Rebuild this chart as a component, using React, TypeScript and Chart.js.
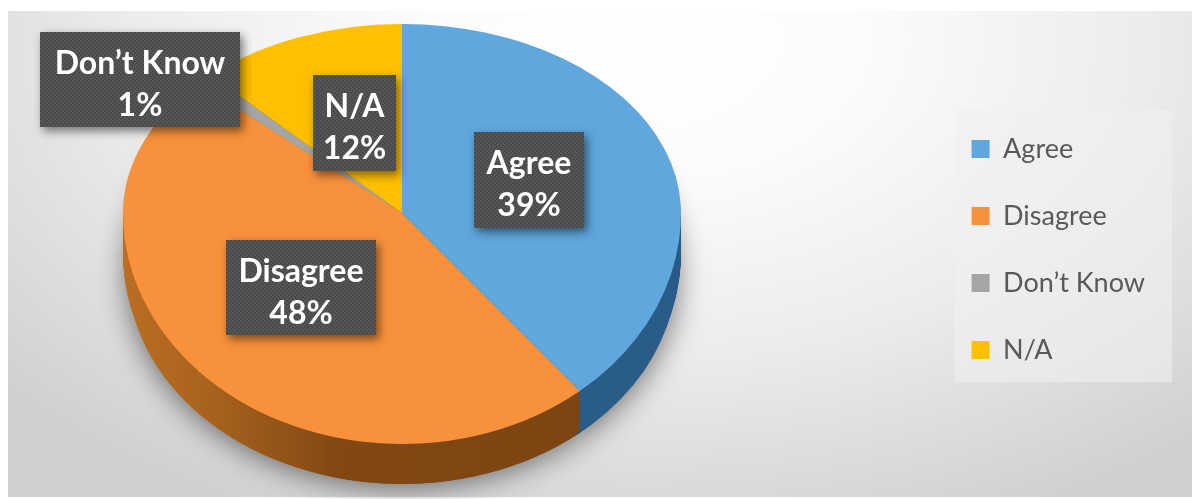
import React, { useEffect, useRef } from "react";
import { Chart, registerables } from "chart.js";

Chart.register(...registerables);

const categories = ["Agree", "Disagree", "Don’t Know", "N/A"];
const shares = [39, 48, 1, 12];
const topColors = ["#5fa7dd", "#f7913c", "#a5a5a5", "#ffc000"];

// Where each data-label box sits on the page: [left, top, right, bottom]
const labelBoxes = [
  [474, 132, 584, 228],
  [226, 240, 376, 335],
  [40, 32, 240, 127],
  [313, 75, 396, 171],
];

const PIE = { cx: 402, cy: 213, rx: 279, ryTop: 189, ryBottom: 231, depth: 40 };

function place(ctx: CanvasRenderingContext2D, el: any, rx: number, ry: number, d: number) {
  const R = el.outerRadius;
  ctx.translate(PIE.cx, PIE.cy + d);
  ctx.scale(rx / R, ry / R);
  ctx.translate(-el.x, -el.y);
}

function clipBand(ctx: CanvasRenderingContext2D, top: number, bottom: number) {
  ctx.beginPath();
  ctx.rect(0, top, 1192, bottom - top);
  ctx.clip();
}

function drawAs(ctx: CanvasRenderingContext2D, el: any, fill: any) {
  const o = el.options;
  el.options = { ...o, backgroundColor: fill };
  el.draw(ctx);
  el.options = o;
}

const pie3d = {
  id: "pie3d",
  beforeDraw(chart: any) {
    const ctx: CanvasRenderingContext2D = chart.ctx;
    ctx.save();
    ctx.fillStyle = "#ffffff";
    ctx.fillRect(0, 0, 1192, 499);
    ctx.beginPath();
    ctx.rect(8, 11, 1184, 486);
    ctx.clip();
    ctx.translate(640, 40);
    ctx.scale(1, 0.62);
    const g = ctx.createRadialGradient(0, 0, 0, 0, 0, 850);
    g.addColorStop(0, "#ffffff");
    g.addColorStop(0.25, "#fcfcfc");
    g.addColorStop(0.6, "#ececec");
    g.addColorStop(1, "#d0d0d0");
    ctx.fillStyle = g;
    ctx.fillRect(-700, -200, 1400, 1200);
    ctx.restore();
    ctx.save();
    ctx.fillStyle = "rgba(240,240,240,0.6)";
    ctx.fillRect(955, 110, 217, 272);
    ctx.restore();
  },
  beforeDatasetsDraw(chart: any) {
    const ctx: CanvasRenderingContext2D = chart.ctx;
    const els = chart.getDatasetMeta(0).data;
    const orange = ctx.createLinearGradient(124, 0, 600, 0);
    orange.addColorStop(0, "#d07a28");
    orange.addColorStop(0.35, "#a9631f");
    orange.addColorStop(0.6, "#824812");
    orange.addColorStop(1, "#7c4511");
    const sideColors = ["#2a5c88", orange, "#666666", "#997300"];
    const first = els[0];

    // soft drop shadow: a slightly smaller copy, mostly hidden behind the pie
    ctx.save();
    clipBand(ctx, 0, 499);
    ctx.shadowColor = "rgba(0,0,0,0.55)";
    ctx.shadowBlur = 30;
    ctx.shadowOffsetY = 3;
    place(ctx, first, PIE.rx * 0.985, 215, 56);
    els.forEach((el: any, i: number) => drawAs(ctx, el, sideColors[i]));
    ctx.restore();

    // rim: stacked copies of the lower half
    for (let d = PIE.depth; d >= 1; d--) {
      ctx.save();
      clipBand(ctx, PIE.cy + d, 499);
      place(ctx, first, PIE.rx, PIE.ryBottom, d);
      els.forEach((el: any, i: number) => drawAs(ctx, el, sideColors[i]));
      ctx.restore();
    }

    // top face, upper and lower halves
    ctx.save();
    clipBand(ctx, 0, PIE.cy + 0.5);
    place(ctx, first, PIE.rx, PIE.ryTop, 0);
    els.forEach((el: any) => el.draw(ctx));
    ctx.restore();
    ctx.save();
    clipBand(ctx, PIE.cy, 499);
    place(ctx, first, PIE.rx, PIE.ryBottom, 0);
    els.forEach((el: any) => el.draw(ctx));
    ctx.restore();
    return false;
  },
  afterDraw(chart: any) {
    const ctx: CanvasRenderingContext2D = chart.ctx;
    const tile = document.createElement("canvas");
    tile.width = 4;
    tile.height = 4;
    const t = tile.getContext("2d")!;
    t.fillStyle = "rgba(255,255,255,0.07)";
    t.fillRect(0, 0, 2, 2);
    t.fillRect(2, 2, 2, 2);
    const pattern = ctx.createPattern(tile, "repeat")!;
    categories.forEach((name, i) => {
      const [l, tp, r, b] = labelBoxes[i];
      ctx.save();
      ctx.shadowColor = "rgba(0,0,0,0.5)";
      ctx.shadowBlur = 9;
      ctx.shadowOffsetX = 3;
      ctx.shadowOffsetY = 4;
      ctx.fillStyle = "#4a4a4a";
      ctx.fillRect(l, tp, r - l, b - tp);
      ctx.restore();
      ctx.save();
      ctx.fillStyle = pattern;
      ctx.fillRect(l, tp, r - l, b - tp);
      ctx.fillStyle = "#ffffff";
      ctx.font = "bold 32px Lato";
      ctx.textAlign = "center";
      ctx.textBaseline = "middle";
      const mid = (l + r) / 2;
      const cy = (tp + b) / 2;
      ctx.fillText(name, mid, cy - 16);
      ctx.fillText(`${shares[i]}%`, mid, cy + 26);
      ctx.restore();
    });
  },
};

export default function App() {
  const ref = useRef<HTMLCanvasElement>(null);
  useEffect(() => {
    document.body.style.margin = "0";
    const chart = new Chart(ref.current!, {
      type: "pie",
      data: {
        labels: categories,
        datasets: [
          { data: shares, backgroundColor: topColors, borderWidth: 0 },
        ],
      },
      options: {
        responsive: false,
        animation: false,
        devicePixelRatio: 1,
        layout: { padding: { right: 37 } },
        plugins: {
          tooltip: { enabled: false },
          legend: {
            position: "right",
            labels: {
              boxWidth: 18,
              boxHeight: 18,
              padding: 40,
              color: "#595959",
              font: { family: "Lato", size: 27 },
            },
          },
        },
      },
      plugins: [pie3d as any],
    });
    return () => chart.destroy();
  }, []);
  return (
    <canvas
      ref={ref}
      width={1192}
      height={499}
      style={{ display: "block", width: 1192, height: 499, filter: "blur(0.5px)" }}
    />
  );
}
